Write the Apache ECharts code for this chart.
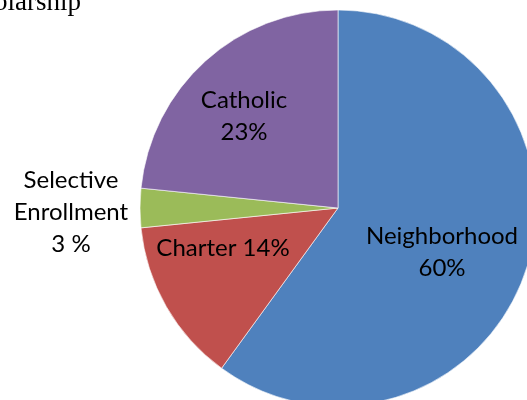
<!DOCTYPE html>
<html>
<head>
<meta charset="utf-8">
<script src="https://cdn.jsdelivr.net/npm/echarts@6/dist/echarts.min.js"></script>
<style>
html,body{margin:0;padding:0;background:#fff;}
#chart{width:527px;height:400px;}
</style>
</head>
<body>
<div id="chart"></div>
<script>
var categories = ["Neighborhood", "Charter", "Selective Enrollment", "Catholic"];
var values = [60, 13.4, 3.2, 23.4];
var labelTexts = ["Neighborhood\n60%", "Charter 14%", "Selective\nEnrollment\n3 %", "Catholic\n23%"];
var colors = ["#4F81BD", "#C0504D", "#9BBB59", "#8064A2"];
var titleText = "olarship";

var labelPos = [[442, 252], [223, 248], [71, 212], [244, 116]];

var chart = echarts.init(document.getElementById('chart'), null, {renderer: 'canvas'});
var data = categories.map(function (c, i) {
  return {
    name: c,
    value: values[i],
    itemStyle: {color: colors[i]},
    label: {formatter: labelTexts[i]}
  };
});
chart.setOption({
  animation: false,
  backgroundColor: '#fff',
  title: {
    text: titleText,
    left: -6,
    top: -11,
    padding: 0,
    textStyle: {
      fontFamily: 'Liberation Serif',
      fontSize: 27,
      fontWeight: 'normal',
      color: '#000',
      lineHeight: 27
    }
  },
  series: [{
    type: 'pie',
    center: [338, 208],
    radius: [0, 198],
    startAngle: 90,
    clockwise: true,
    avoidLabelOverlap: false,
    itemStyle: {borderColor: '#fff', borderWidth: 0.6},
    label: {
      show: true,
      position: 'inside',
      fontFamily: 'Lato',
      fontSize: 24,
      lineHeight: 32,
      color: '#000',
      align: 'center'
    },
    labelLine: {show: false},
    labelLayout: function (p) {
      var xy = labelPos[p.dataIndex];
      return {x: xy[0], y: xy[1], align: 'center', verticalAlign: 'middle'};
    },
    emphasis: {disabled: true},
    data: data
  }]
});
</script>
</body>
</html>
